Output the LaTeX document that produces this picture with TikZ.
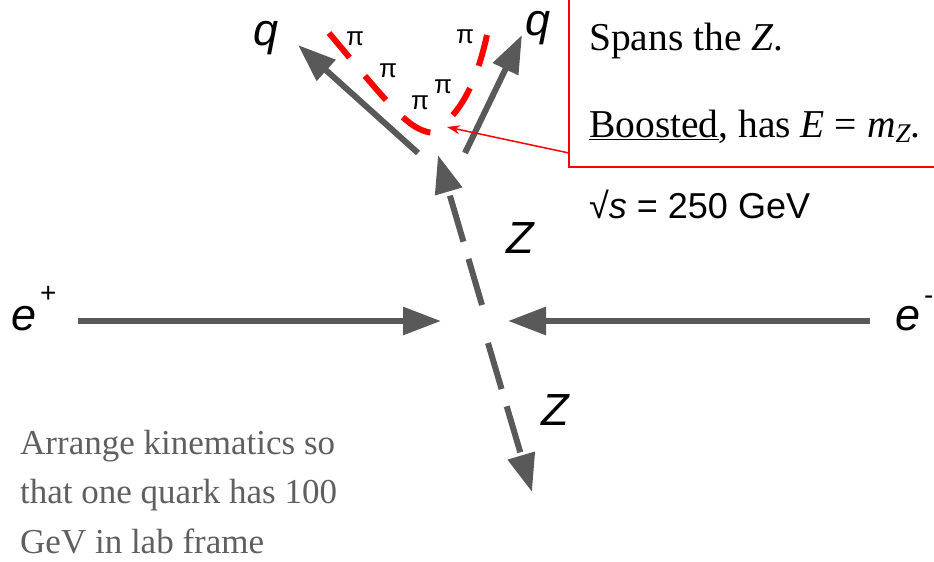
\documentclass[tikz,border=0pt]{standalone}
\usepackage{fontspec}
\setmainfont{Liberation Serif}
\setsansfont{Liberation Sans}
\usetikzlibrary{arrows.meta}
\definecolor{arrgray}{HTML}{595959}
\definecolor{txtgray}{HTML}{5F5F5F}
\definecolor{pired}{HTML}{FF0000}
\tikzset{
  particle/.style={draw=arrgray, line width=6pt, -{Triangle[length=38pt,width=27pt]}},
  zline/.style={particle, dash pattern=on 48pt off 18pt},
  jet/.style={draw=pired, line width=6pt, dash pattern=on 32pt off 24pt},
  lbl/.style={inner sep=0pt, anchor=base west, font=\sffamily\itshape\fontsize{45}{50}\selectfont},
  suplbl/.style={inner sep=0pt, anchor=base west, font=\sffamily\fontsize{28}{30}\selectfont},
  pilbl/.style={inner sep=0pt, anchor=base west, font=\sffamily\fontsize{26}{30}\selectfont},
  boxtxt/.style={inner sep=0pt, anchor=base west, font=\fontsize{39.5}{44}\selectfont},
  note/.style={inner sep=0pt, anchor=base west, align=left, text=txtgray, font=\fontsize{35}{49.5}\selectfont},
}
\begin{document}
\begin{tikzpicture}[x=1pt,y=-1pt]
\useasboundingbox (0,0) rectangle (934,562);
% coordinates
\coordinate (ep0) at (78,321);  \coordinate (ep1) at (441,321);
\coordinate (em0) at (870,321); \coordinate (em1) at (508,321);
\coordinate (z1s) at (482,305); \coordinate (z1e) at (438,155);
\coordinate (z2s) at (488,343); \coordinate (z2e) at (532,492);
\coordinate (q1s) at (418,153); \coordinate (q1e) at (298,45);
\coordinate (q2s) at (465,153); \coordinate (q2e) at (522,35);
\coordinate (j1s) at (329,33);  \coordinate (j1e) at (434,133);
\coordinate (j2s) at (487,35);  \coordinate (j2e) at (452,116);
\coordinate (bx0) at (569,0); \coordinate (bx1) at (569,167); \coordinate (bx2) at (936,167);
\coordinate (ptr0) at (569,153); \coordinate (ptr1) at (447,127);
% beams
\draw[particle] (ep0) -- (ep1);
\draw[particle] (em0) -- (em1);
% Z bosons
\draw[zline] (z1s) -- (z1e);
\draw[zline] (z2s) -- (z2e);
% quarks
\draw[particle] (q1s) -- (q1e);
\draw[particle] (q2s) -- (q2e);
% jets
\draw[jet] (j1s) .. controls (395,112) and (410,131) .. (j1e);
\draw[jet] (j2s) .. controls (481,62) and (471,95) .. (j2e);
% red box
\draw[pired, line width=2pt] (bx0) -- (bx1) -- (bx2);
\draw[pired, line width=1.5pt, -{Stealth[length=13pt,width=9pt]}] (ptr0) -- (ptr1);
% labels
\node[lbl] (lep) at (11,330) {e};
\node[suplbl] (lepsup) at (40,302) {+};
\node[lbl] (lem) at (895,330) {e};
\node[suplbl] (lemsup) at (924,304) {-};
\node[lbl] (lq1) at (253,45) {q};
\node[lbl] (lq2) at (525,35) {q};
\node[lbl] (lz1) at (506,253) {Z};
\node[lbl] (lz2) at (541,425) {Z};
\node[pilbl] (p1) at (346,45) {π};
\node[pilbl] (p2) at (379,77) {π};
\node[pilbl] (p3) at (411,109) {π};
\node[pilbl] (p4) at (434,93) {π};
\node[pilbl] (p5) at (456,43) {π};
\node[boxtxt] (t1) at (589,50) {Spans the \textit{Z}.};
\node[boxtxt] (t2) at (589,137) {\underline{Boosted}, has \textit{E} = \textit{m}\raisebox{-0.3ex}{\fontsize{27}{30}\selectfont\textit{Z}}.};
\node[inner sep=0pt, anchor=base west, font=\sffamily\fontsize{36}{40}\selectfont] (rts) at (589,218) {√\textit{s} = 250 GeV};
\node[note] (nt) at (20,553) {Arrange kinematics so\\that one quark has 100\\GeV in lab frame};
\end{tikzpicture}
\end{document}
